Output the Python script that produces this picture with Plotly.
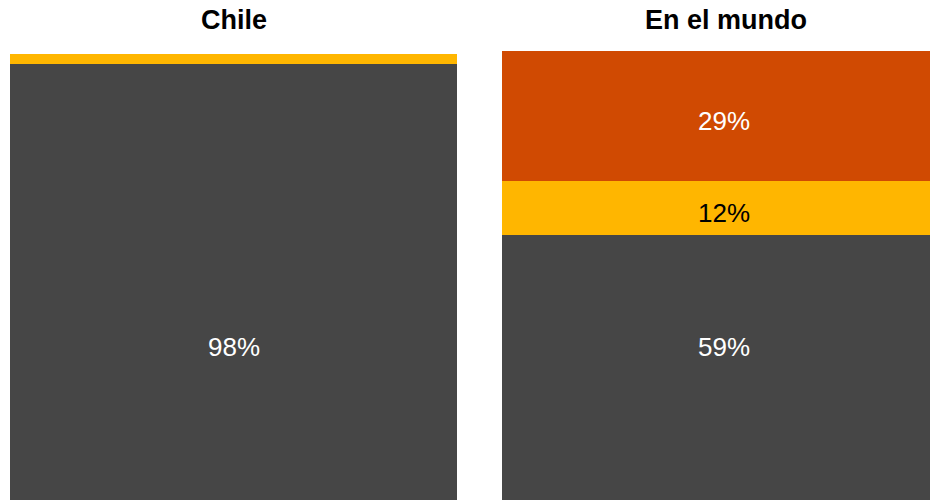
import plotly.graph_objects as go

# Data
panels = ["Chile", "En el mundo"]
gray_vals = [97.1, 59]
yellow_vals = [2.2, 12]
red_vals = [0, 29]
gray_labels = ["98%", "59%"]
yellow_labels = ["", "12%"]
red_labels = ["", "29%"]

GRAY = "#464646"
YELLOW = "#FFB600"
RED = "#D04A02"
FONT = "Liberation Sans, Arial, sans-serif"

W, H = 938, 501
doms = [(2 / W, 449 / W), (494 / W, 1.0)]

fig = go.Figure()
for i, name in enumerate(panels):
    xa = "x" if i == 0 else "x2"
    ya = "y" if i == 0 else "y2"
    for vals, col in ((gray_vals, GRAY), (yellow_vals, YELLOW), (red_vals, RED)):
        fig.add_trace(go.Bar(
            x=[name], y=[vals[i]], marker=dict(color=col, line=dict(width=0)),
            xaxis=xa, yaxis=ya, showlegend=False, hoverinfo="skip", width=1,
        ))
    # labels for upper segments (centered on the segment through data scale)
    base = gray_vals[i]
    for vals, labs, tc in ((yellow_vals, yellow_labels, "black"), (red_vals, red_labels, "white")):
        if labs[i]:
            fig.add_annotation(x=name, y=base + vals[i] / 2, xref=xa, yref=ya,
                               text=labs[i], showarrow=False, yshift=-5,
                               font=dict(family=FONT, size=26, color=tc))
        base += vals[i]
    # gray label
    fig.add_annotation(x=name, y=0.341 * 100, xref=xa, yref=ya, text=gray_labels[i],
                       showarrow=False, font=dict(family=FONT, size=26, color="white"))
    # title
    cx = 0 if i == 0 else 0
    fig.add_annotation(x=name, y=1, xref=xa, yref="paper", yanchor="bottom", yshift=14,
                       xshift=0 if i == 0 else 2,
                       text="<b>%s</b>" % name, showarrow=False,
                       font=dict(family=FONT, size=27, color="black"))

fig.update_layout(
    width=W, height=H, barmode="stack", bargap=0,
    margin=dict(l=0, r=0, t=43, b=9),
    paper_bgcolor="white", plot_bgcolor="white",
    xaxis=dict(domain=doms[0], visible=False, range=[-0.5, 0.5]),
    xaxis2=dict(domain=doms[1], visible=False, range=[-0.5, 0.5]),
    yaxis=dict(range=[0, 100], visible=False),
    yaxis2=dict(range=[0, 100], visible=False, anchor="x2"),
)
fig.write_html("out.html")
